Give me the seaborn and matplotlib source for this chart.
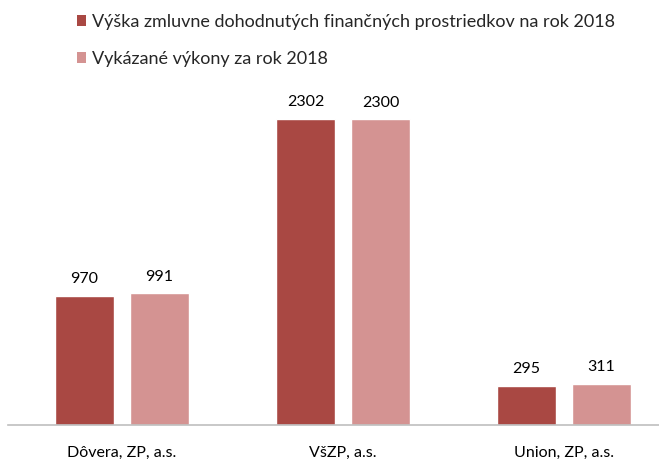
import pandas as pd
import seaborn as sns
import matplotlib.pyplot as plt
from matplotlib.patches import Patch

categories = ["Dôvera, ZP, a.s.", "VšZP, a.s.", "Union, ZP, a.s."]
series_names = ["Výška zmluvne dohodnutých finančných prostriedkov na rok 2018",
                "Vykázané výkony za rok 2018"]
contracted = [970, 2302, 295]
reported = [991, 2300, 311]
colors = ["#A94843", "#D49392"]

df = pd.DataFrame({
    "poistovna": categories * 2,
    "seria": [series_names[0]] * 3 + [series_names[1]] * 3,
    "hodnota": contracted + reported,
})

sns.set_theme(style="white")
plt.rcParams["font.family"] = ["Lato", "DejaVu Sans"]

fig = plt.figure(figsize=(6.59, 4.59), dpi=100)
ax = fig.add_axes([8 / 659, 34 / 459, 651 / 659, 335 / 459])

sns.barplot(data=df, x="poistovna", y="hodnota", hue="seria",
            palette=colors, saturation=1, width=0.679, gap=0.21,
            legend=False, ax=ax)

for c in ax.containers:
    ax.bar_label(c, padding=7, fontsize=11.5, color="#000000")

ax.set_xlim(-0.516, 2.43)
ax.set_ylim(0, 2521)
ax.set_xlabel("")
ax.set_ylabel("")
ax.set_yticks([])
ax.tick_params(axis="x", length=0, labelsize=11.5, pad=15, colors="#000000")
for s in ["top", "left", "right"]:
    ax.spines[s].set_visible(False)
ax.spines["bottom"].set_color("#BFBFBF")
ax.spines["bottom"].set_linewidth(1.2)

handles = [Patch(facecolor=c, edgecolor="none") for c in colors]
fig.legend(handles, series_names, loc="upper left", bbox_to_anchor=(63 / 659, 1.0),
           frameon=False, fontsize=13, handlelength=0.55, handleheight=0.55,
           handletextpad=0.3, labelspacing=1.2, borderpad=0.25)

fig.savefig("out.png", dpi=100)
